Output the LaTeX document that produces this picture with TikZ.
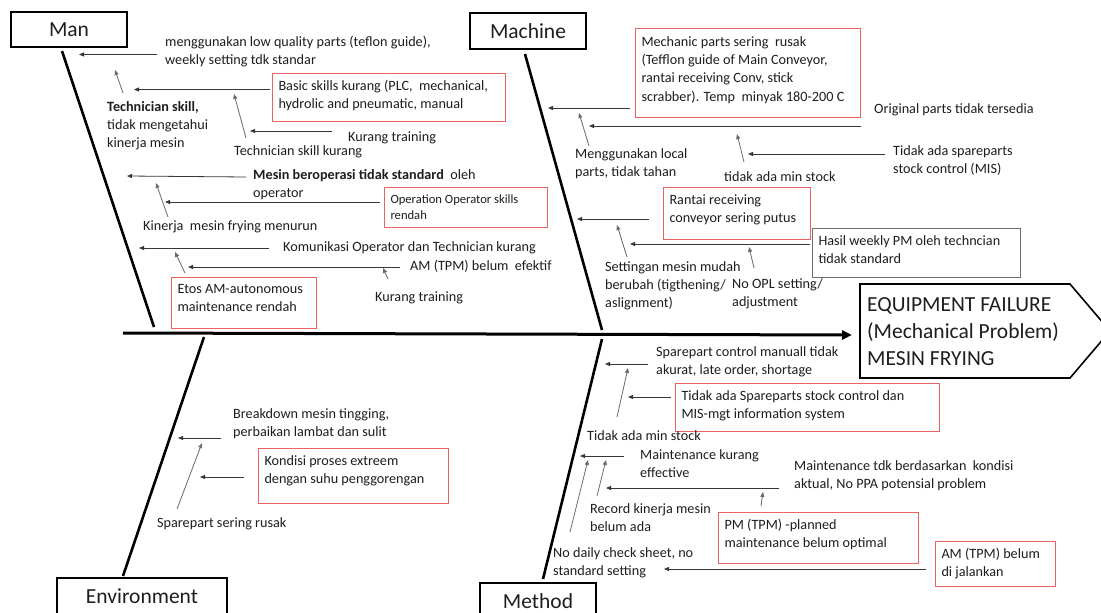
\documentclass[tikz,border=0pt]{standalone}
\usepackage{fontspec}
\setmainfont{Carlito}
\usetikzlibrary{arrows.meta}
\definecolor{boxred}{RGB}{236,98,98}
\definecolor{boxgray}{RGB}{110,110,110}
\definecolor{ink}{RGB}{30,30,30}
\definecolor{wire}{RGB}{55,55,55}
\newcommand\txt{\fontsize{14.2}{18.2}\selectfont}
\newcommand\txtsm{\fontsize{12.6}{15.5}\selectfont}
\newcommand\ttl{\fontsize{21.5}{27}\selectfont}

\begin{document}
% Multi-line labels are placed by the baseline of their last line.
\begin{tikzpicture}[x=1pt,y=-1pt,
  lbl/.style={anchor=base west, inner sep=0pt, align=left, font=\txt, text=ink},
  cbox/.style={draw=boxred, line width=1pt, anchor=north west, inner ysep=0pt,
               inner xsep=6pt, align=flush left, font=\txt, text=ink},
  titlebox/.style={draw=black, line width=1.6pt, font=\ttl, text=ink, inner sep=0pt},
  bone/.style={line width=2.6pt, black},
  cause/.style={line width=0.8pt, draw=wire, -{Triangle[length=5pt,width=4pt]}},
  rise/.style={line width=0.8pt, draw=wire!75, -{Triangle[length=5pt,width=4pt]}},
]
\useasboundingbox (0,0) rectangle (1101,613);
\fill[white] (0,0) rectangle (1101,613);

% ---------- category boxes ----------
\node[titlebox, minimum width=116pt, minimum height=35pt] (man) at (69,29.5) {Man};
\node[titlebox, minimum width=116pt, minimum height=36pt] (machine) at (528,31) {Machine};
\node[titlebox, minimum width=170pt, minimum height=36pt] (env) at (142,596) {Environment};
\node[titlebox, minimum width=116pt, minimum height=36pt] (method) at (538,601) {Method};

% ---------- effect (fish head) ----------
\draw[line width=1.6pt, line join=miter] (860,284) -- (1070,284) -- (1110,331) -- (1070,378) -- (860,378) -- cycle;
\node[lbl, font=\ttl] (head) at (867,365) {EQUIPMENT FAILURE\\(Mechanical Problem)\\MESIN FRYING};

% ---------- spine and bones ----------
\coordinate (tail) at (123,333);
\coordinate (tip) at (852,335);
\draw[line width=3pt, -{Triangle[length=10pt,width=9pt]}] (tail) -- (tip);

\coordinate (manTop) at (62,51);     \coordinate (manEnd) at (154,327);
\coordinate (macTop) at (525,54);    \coordinate (macEnd) at (602,330);
\coordinate (envTop) at (204,337);   \coordinate (envEnd) at (123,576);
\coordinate (metTop) at (602,339);   \coordinate (metEnd) at (543,579);
\draw[bone] (manTop) -- (manEnd);
\draw[bone] (macTop) -- (macEnd);
\draw[bone] (envTop) -- (envEnd);
\draw[bone] (metTop) -- (metEnd);

% ---------- Man ----------
\node[lbl] (lowq) at (165,64.2) {menggunakan low quality parts (teflon guide),\\weekly setting tdk standar};
\node[cbox, text width=221pt, text height=17pt, text depth=31pt] (basic) at (272,73)
  {Basic skills kurang (PLC,~ mechanical,\\hydrolic and pneumatic, manual};
\node[lbl] (techsk) at (107,147.4) {\textbf{Technician skill,}\\tidak mengetahui\\kinerja mesin};
\node[lbl] (kt1) at (348,141) {Kurang training};
\node[lbl] (tsk) at (234,155) {Technician skill kurang};
\node[lbl] (mesinop) at (253,197.2) {\textbf{Mesin beroperasi tidak standard}~ oleh\\operator};
\node[cbox, font=\txtsm, text width=151pt, text height=16pt, text depth=24pt] (opskill) at (384,187)
  {Operation Operator skills\\rendah};
\node[lbl] (kinerja) at (143,230) {Kinerja~ mesin frying menurun};
\node[lbl] (komun) at (283,251) {Komunikasi Operator dan Technician kurang};
\node[lbl] (amef) at (410,270) {AM (TPM) belum~ efektif};
\node[cbox, text width=133pt, text height=16pt, text depth=35pt] (etos) at (171,277)
  {Etos AM-autonomous\\maintenance rendah};
\node[lbl] (kt2) at (375,301) {Kurang training};

% ---------- Machine ----------
\node[cbox, text width=213pt, text height=18pt, text depth=71pt] (mech) at (635,28)
  {Mechanic parts sering~ rusak\\(Tefflon guide of Main Conveyor,\\rantai receiving Conv, stick\\scrabber). Temp~ minyak 180-200 C};
\node[lbl] (local) at (575,176.2) {Menggunakan local\\parts, tidak tahan};
\node[lbl] (orig) at (874,113) {Original parts tidak tersedia};
\node[lbl] (nomis) at (893,173.2) {Tidak ada spareparts\\stock control (MIS)};
\node[lbl] (minst1) at (724,181) {tidak ada min stock};
\node[cbox, text width=135pt, text height=17pt, text depth=35pt] (rantai) at (663,187)
  {Rantai receiving\\conveyor sering putus};
\node[cbox, draw=boxgray, text width=196pt, text height=17pt, text depth=32pt] (weekly) at (812,228)
  {Hasil weekly PM oleh techncian\\tidak standard};
\node[lbl] (setting) at (605,307.4) {Settingan mesin mudah\\berubah (tigthening/\\aslignment)};
\node[lbl] (opl) at (732,306.2) {No OPL setting/\\adjustment};

% ---------- Environment ----------
\node[lbl] (brk) at (233,436.2) {Breakdown mesin tingging,\\perbaikan lambat dan sulit};
\node[cbox, text width=178pt, text height=17pt, text depth=38pt] (kondisi) at (258,448)
  {Kondisi proses extreem\\dengan suhu penggorengan};
\node[lbl] (sprusak) at (157,527) {Sparepart sering rusak};

% ---------- Method ----------
\node[lbl] (manual) at (656,374.2) {Sparepart control manuall tidak\\akurat, late order, shortage};
\node[cbox, text width=252pt, text height=17pt, text depth=31pt] (spctrl) at (675,383)
  {Tidak ada Spareparts stock control dan\\MIS-mgt information system};
\node[lbl] (minst2) at (587,440) {Tidak ada min stock};
\node[lbl] (mkeff) at (640,477.2) {Maintenance kurang\\effective};
\node[lbl] (mtdk) at (794,488.2) {Maintenance tdk berdasarkan~ kondisi\\aktual, No PPA potensial problem};
\node[lbl] (record) at (590,531.2) {Record kinerja mesin\\belum ada};
\node[cbox, text width=188pt, text height=17pt, text depth=34pt] (pm) at (718,512)
  {PM (TPM) -planned\\maintenance belum optimal};
\node[lbl] (daily) at (553,575.2) {No daily check sheet, no\\standard setting};
\node[cbox, text width=108pt, text height=17pt, text depth=28pt] (amjal) at (935,541)
  {AM (TPM) belum\\di jalankan};

% ---------- cause arrows (horizontal) ----------
\foreach \n/\xa/\ya/\xb/\yb in {
  a1/157/54.5/79/54.5, a2/270/89.5/134/89.5, a3/332/131/250/131,
  a4/246/177/127/176, a5/380/202/165/202, a6/269/248/139/248, a7/400/267/188/267,
  a8/630/108/548/108, a9/861/126/589/126, a10/885/154/748/154,
  a11/649/219/577/219, a12/810/244/630/244,
  a13/221/438/178/438, a14/244/477/200/477,
  a15/648/364/605/364, a16/671/397/628/397, a17/624/456/580/456,
  a18/779/488/606/488, a19/926/569/664/569}
{
  \coordinate (\n s) at (\xa,\ya);
  \coordinate (\n e) at (\xb,\yb);
  \draw[cause] (\n s) -- (\n e);
}

% ---------- sub-cause arrows (slanted) ----------
\foreach \n/\xa/\ya/\xb/\yb in {
  r1/123/93/115/70, r2/246/138/234/94, r3/168/217/156/183,
  r4/185/273/175/252, r5/388/279/383/268,
  r6/589/146/579/113, r7/744/162/737/134, r8/627/257/617/225, r9/754/268/749/247,
  r10/177/509/202/443,
  r11/617/417/628/368, r12/570/532/588/460, r13/597/496/606/460, r14/761/506/763/492}
{
  \coordinate (\n s) at (\xa,\ya);
  \coordinate (\n e) at (\xb,\yb);
  \draw[rise] (\n s) -- (\n e);
}
\end{tikzpicture}
\end{document}
